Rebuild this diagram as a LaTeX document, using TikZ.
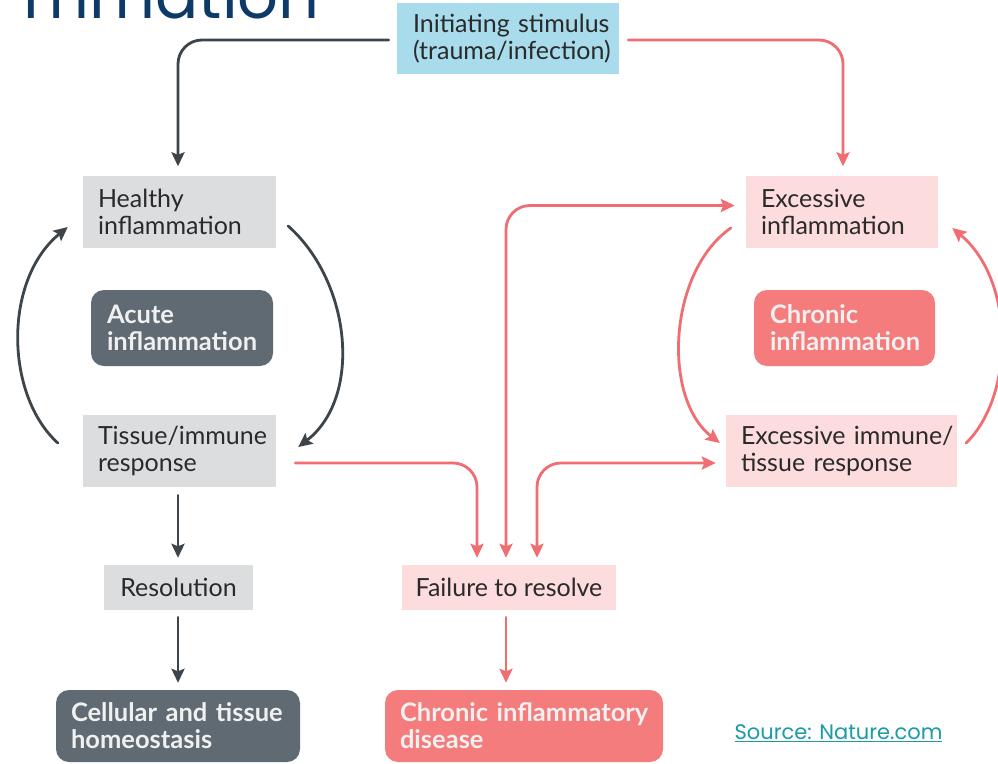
\documentclass[tikz,border=0pt]{standalone}
\usepackage{fontspec}
\setmainfont{Lato}
\newfontfamily\headfont{Poppins}
\usetikzlibrary{arrows.meta}
\hbadness=10000 \hfuzz=100pt

\definecolor{lineDark}{HTML}{3D454B}
\definecolor{lineRed}{HTML}{F06E71}
\definecolor{fillGray}{HTML}{DCDDDF}
\definecolor{fillPink}{HTML}{FCDCDC}
\definecolor{fillBlue}{HTML}{A8DBEB}
\definecolor{fillSlate}{HTML}{5F6A72}
\definecolor{fillRed}{HTML}{F47C7C}
\definecolor{inkText}{HTML}{2A2A2A}
\definecolor{inkTitle}{HTML}{0D3A66}
\definecolor{inkLink}{HTML}{1B9AA8}

\tikzset{
  label text/.style={font=\fontsize{25}{27}\selectfont, align=left, inner ysep=0pt},
  plainbox/.style={label text, rectangle, text=inkText, inner xsep=15pt, minimum height=72pt},
  graybox/.style={plainbox, fill=fillGray},
  pinkbox/.style={plainbox, fill=fillPink},
  bluebox/.style={plainbox, fill=fillBlue},
  stagebox/.style={label text, font=\fontsize{25.5}{27}\selectfont\bfseries, rectangle,
    rounded corners=13pt, text=white!94!black, inner xsep=15pt, minimum height=76pt},
  slatebox/.style={stagebox, fill=fillSlate},
  redbox/.style={stagebox, fill=fillRed},
  tip/.tip={Stealth[length=14pt, width=13pt, inset=2.5pt]},
  link/.style={line width=2.8pt, line cap=round, rounded corners=24pt, -tip},
  darklink/.style={link, draw=lineDark},
  redlink/.style={link, draw=lineRed},
  twoway/.style={tip-tip},
}

\begin{document}
\begin{tikzpicture}[x=1pt, y=-1pt]
  \useasboundingbox (0,0) rectangle (998,763);
  \fill[white] (0,0) rectangle (998,763);

  % heading cut by the top edge
  \begin{scope}
    \clip (0,0) rectangle (998,763);
    \node[anchor=base east, inner sep=0pt, text=inkTitle,
          font=\headfont\fontsize{64}{64}\selectfont] (heading) at (320,18) {mmation};
  \end{scope}

  % boxes (each line kept whole)
  \node[bluebox, text width=190pt, inner xsep=16pt, minimum height=71pt] (stim) at (508,38.5)
    {\mbox{Initiating stimulus}\\\mbox{(trauma/infection)}};

  \node[graybox, text width=163pt] (healthy) at (179.5,211.5) {Healthy\\inflammation};
  \node[slatebox, text width=150pt, inner xsep=16pt] (acute) at (182,328) {Acute\\inflammation};
  \node[graybox, text width=163pt] (tissue) at (179.5,451) {\mbox{Tissue/immune}\\response};
  \node[graybox, align=center, minimum width=149pt, minimum height=45pt, inner xsep=0pt] (resol)
    at (178.5,587.5) {Resolution};
  \node[slatebox, text width=214pt, minimum height=72pt] (homeo) at (178,726)
    {\mbox{Cellular and tissue}\\homeostasis};

  \node[pinkbox, text width=162pt] (excinf) at (842,211.5) {Excessive\\inflammation};
  \node[redbox, text width=149pt, inner xsep=16pt] (chronic) at (844.5,328) {Chronic\\inflammation};
  \node[pinkbox, text width=201pt] (excimm) at (841.5,451)
    {\mbox{Excessive immune/}\\\mbox{tissue response}};
  \node[pinkbox, align=center, minimum width=214pt, minimum height=45pt, inner xsep=0pt] (failure)
    at (509,587.5) {Failure to resolve};
  \node[redbox, text width=248pt, minimum height=72pt] (disease) at (524,726)
    {\mbox{Chronic inflammatory}\\disease};

  \node[inner sep=0pt, text=inkLink, font=\headfont\fontsize{21}{21}\selectfont] (source)
    at (838.5,733) {\underline{Source: Nature.com}};

  % stimulus branches
  \draw[darklink, shorten <=8pt, shorten >=9pt]
    ([shift={(0,1.5)}]stim.west) -| ([shift={(-1.5,0)}]healthy.north);
  \draw[redlink, shorten <=9pt, shorten >=9pt]
    ([shift={(0,1.5)}]stim.east) -| ([shift={(1,0)}]excinf.north);

  % acute cycle
  \draw[darklink] ([shift={(12,14.5)}]healthy.east)
    .. controls (352,283) and (362,398) .. ([shift={(22,-4)}]tissue.east);
  \draw[darklink] ([shift={(-25,-8)}]tissue.west)
    .. controls (5,395) and (3,280) .. ([shift={(-15,15.5)}]healthy.west);

  % resolution path
  \draw[darklink, shorten <=8pt, shorten >=7pt]
    ([shift={(-1.5,0)}]tissue.south) -- ([shift={(-1.5,0)}]tissue.south |- resol.north);
  \draw[darklink, shorten <=7pt, shorten >=7pt]
    ([shift={(-0.5,0)}]resol.south) -- ([shift={(-0.5,0)}]resol.south |- homeo.north);

  % chronic cycle
  \draw[redlink] ([shift={(-15,16.5)}]excinf.west)
    .. controls (668,272) and (662,398) .. ([shift={(-6,-8)}]excimm.west);
  \draw[redlink] ([shift={(9,-8)}]excimm.east)
    .. controls (1015,395) and (1015,280) .. ([shift={(14,16.5)}]excinf.east);

  % paths into failure to resolve
  \draw[redlink, shorten <=19pt, shorten >=7pt]
    ([shift={(0,12)}]tissue.east) -| ([shift={(-32,0)}]failure.north);
  \draw[redlink, twoway, shorten <=7pt, shorten >=11pt]
    ([shift={(-3,0)}]failure.north) |- ([shift={(0,-6)}]excinf.west);
  \draw[redlink, twoway, shorten <=7pt, shorten >=10pt]
    ([shift={(28,0)}]failure.north) |- ([shift={(0,12)}]excimm.west);

  \draw[redlink, shorten <=7pt, shorten >=7pt]
    ([shift={(-3,0)}]failure.south) -- ([shift={(-3,0)}]failure.south |- disease.north);
\end{tikzpicture}
\end{document}
